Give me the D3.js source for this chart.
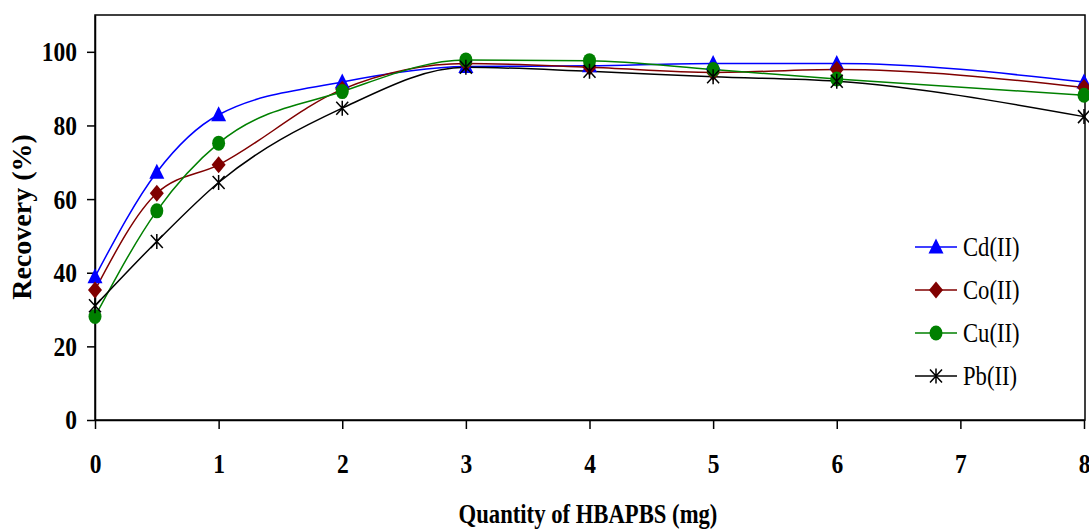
<!DOCTYPE html>
<html>
<head>
<meta charset="utf-8">
<script src="https://cdn.jsdelivr.net/npm/d3@7"></script>
<style>
  body { margin: 0; background: #fff; }
  text { font-family: "Liberation Serif", "Times New Roman", serif; }
</style>
</head>
<body>
<div class="chart"></div>
<script>
const quantity = [0, 0.5, 1, 2, 3, 4, 5, 6, 8];
const cd = [38.9, 67.3, 82.9, 91.8, 96, 96.2, 96.8, 96.8, 91.8];
const co = [35.3, 61.6, 69.3, 89.8, 96.8, 95.8, 94.4, 95.2, 90.3];
const cu = [28.1, 56.8, 75.2, 89.2, 97.8, 97.6, 95.2, 92.6, 88.2];
const pb = [31, 48.5, 64.5, 84.7, 95.8, 94.7, 93.2, 92, 82.4];
const yTicks = [0, 20, 40, 60, 80, 100];
const xTicks = [0, 1, 2, 3, 4, 5, 6, 7, 8];

const series = [
  {name: 'Cd(II)', values: cd, color: '#0000ff', marker: 'triangle'},
  {name: 'Co(II)', values: co, color: '#800000', marker: 'diamond'},
  {name: 'Cu(II)', values: cu, color: '#008000', marker: 'circle'},
  {name: 'Pb(II)', values: pb, color: '#000000', marker: 'star'}
];

const svgwidth = 1089;
const svgheight = 530;
const plotLeft = 95, plotRight = 1084, plotTop = 15, plotBottom = 420;
const squeeze = 0.84; // the source picture is stretched vertically, text looks narrow

const svg = d3.select('.chart').append('svg')
    .attr('width', svgwidth)
    .attr('height', svgheight);

const x = d3.scaleLinear().domain([0, 8]).range([plotLeft, plotRight]);
const y = d3.scaleLinear().domain([0, 110]).range([plotBottom, plotTop]);

// frame
svg.append('rect')
    .attr('x', plotLeft).attr('y', plotTop)
    .attr('width', plotRight - plotLeft + 1).attr('height', plotBottom - plotTop)
    .attr('fill', 'none').attr('stroke', '#000').attr('stroke-width', 1.5);

// axes
const xAxis = svg.append('g')
    .attr('transform', `translate(0,${plotBottom})`)
    .call(d3.axisBottom(x).tickValues(xTicks).tickSize(9).tickSizeOuter(0).tickPadding(24));
const yAxis = svg.append('g')
    .attr('transform', `translate(${plotLeft},0)`)
    .call(d3.axisLeft(y).tickValues(yTicks).tickSize(8).tickSizeOuter(0).tickPadding(13.5));

[xAxis, yAxis].forEach(g => {
  g.select('.domain').attr('stroke', '#000').attr('stroke-width', 1.5);
  g.selectAll('.tick line').attr('stroke', '#000').attr('stroke-width', 1.5);
  g.selectAll('.tick text')
      .attr('font-weight', 'bold')
      .attr('font-size', 28)
      .attr('fill', '#000')
      .attr('transform', `scale(${squeeze},1)`);
});

// axis titles
svg.append('g')
    .attr('transform', `translate(588,523) scale(${squeeze},1)`)
  .append('text')
    .attr('text-anchor', 'middle')
    .attr('font-weight', 'bold').attr('font-size', 27)
    .text('Quantity of HBAPBS (mg)');

svg.append('text')
    .attr('transform', 'translate(31,217) rotate(-90)')
    .attr('text-anchor', 'middle')
    .attr('font-weight', 'bold').attr('font-size', 28)
    .text('Recovery (%)');

function drawMarker(g, type, color) {
  if (type === 'triangle') {
    g.append('path').attr('d', 'M0,-8.5L7.5,6.5L-7.5,6.5Z').attr('fill', color);
  } else if (type === 'diamond') {
    g.append('path').attr('d', 'M0,-8.5L7,0L0,8.5L-7,0Z').attr('fill', color);
  } else if (type === 'circle') {
    g.append('ellipse').attr('rx', 6.5).attr('ry', 7.5).attr('fill', color);
  } else {
    g.append('path').attr('d', 'M-6,-6.5L6,6.5M-6,6.5L6,-6.5M0,-7.5L0,7.5')
        .attr('stroke', color).attr('stroke-width', 1.5).attr('fill', 'none');
  }
}

const line = d3.line()
    .x((d, i) => x(quantity[i]))
    .y(d => y(d))
    .curve(d3.curveMonotoneX);

series.forEach(s => {
  svg.append('path')
      .attr('d', line(s.values))
      .attr('fill', 'none')
      .attr('stroke', s.color)
      .attr('stroke-width', 1.5);
});

series.forEach(s => {
  s.values.forEach((v, i) => {
    const g = svg.append('g').attr('transform', `translate(${x(quantity[i])},${y(v)})`);
    drawMarker(g, s.marker, s.color);
  });
});

// legend
const legend = svg.append('g');
series.forEach((s, i) => {
  const ly = 247 + i * 43;
  legend.append('line')
      .attr('x1', 915).attr('x2', 957).attr('y1', ly).attr('y2', ly)
      .attr('stroke', s.color).attr('stroke-width', 1.5);
  const g = legend.append('g').attr('transform', `translate(936,${ly})`);
  drawMarker(g, s.marker, s.color);
  legend.append('g')
      .attr('transform', `translate(963,${ly + 9}) scale(${squeeze},1)`)
    .append('text')
      .attr('font-size', 27)
      .text(s.name);
});
</script>
</body>
</html>
